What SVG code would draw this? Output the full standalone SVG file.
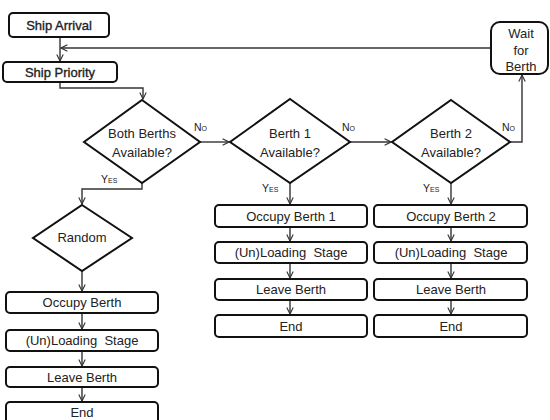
<svg xmlns="http://www.w3.org/2000/svg" width="550" height="420" viewBox="0 0 550 420">
<defs>
<marker id="ah" viewBox="0 0 10 10" refX="9" refY="5" markerWidth="8" markerHeight="8" orient="auto" markerUnits="userSpaceOnUse">
<path d="M1,1 L9,5 L1,9" fill="none" stroke="#333" stroke-width="1.4"/>
</marker>
<style>
.box{fill:#fff;stroke:#111;stroke-width:2}
.dia{fill:#fff;stroke:#111;stroke-width:2}
.t{font-family:"Liberation Sans",Arial,sans-serif;font-size:13px;fill:#222;text-anchor:middle;dominant-baseline:central}
.b{font-size:13px;stroke:#222;stroke-width:0.35}
.lbl{font-family:"Liberation Sans",Arial,sans-serif;font-size:10.5px;fill:#222;font-variant:small-caps}
.c{fill:none;stroke:#333;stroke-width:1.4;marker-end:url(#ah)}
</style>
</defs>
<rect width="550" height="420" fill="#fff"/>

<g id="connectors">
<path class="c" d="M60,37 V61"/>
<path class="c" d="M491,48 H61"/>
<path class="c" d="M60,82 V88 H143 V99"/>
<path class="c" d="M200,142 H229"/>
<path class="c" d="M350,142 H391"/>
<path class="c" d="M510,142 H522 V75"/>
<path class="c" d="M142,183 V189 H82 V204"/>
<path class="c" d="M82,271 V291"/>
<path class="c" d="M82,313 V329"/>
<path class="c" d="M82,351 V366"/>
<path class="c" d="M82,387 V401"/>
<path class="c" d="M290,183 V204"/>
<path class="c" d="M290,227 V241"/>
<path class="c" d="M290,263 V278"/>
<path class="c" d="M290,300 V314"/>
<path class="c" d="M451,183 V204"/>
<path class="c" d="M451,227 V241"/>
<path class="c" d="M451,263 V278"/>
<path class="c" d="M451,300 V314"/>
<text class="lbl" x="194" y="131">No</text>
<text class="lbl" x="342" y="131">No</text>
<text class="lbl" x="502" y="131">No</text>
<text class="lbl" x="101" y="183">Yes</text>
<text class="lbl" x="262" y="192">Yes</text>
<text class="lbl" x="423" y="192">Yes</text>
</g>

<g id="ship-arrival"><rect class="box" x="9" y="13" width="100" height="24" rx="4"/><text class="t b" x="59" y="25">Ship Arrival</text></g>
<g id="ship-priority"><rect class="box" x="3" y="62" width="114" height="20" rx="4"/><text class="t b" x="60" y="72">Ship Priority</text></g>
<g id="wait"><rect class="box" x="491" y="22" width="57" height="52" rx="9"/><text class="t" x="521" y="33">Wait</text><text class="t" x="521" y="50">for</text><text class="t" x="521" y="66">Berth</text></g>

<g id="both-berths"><polygon class="dia" points="142,100 200,142 142,183 84,142"/><text class="t" x="142" y="133">Both Berths</text><text class="t" x="142" y="152">Available?</text></g>
<g id="berth1-q"><polygon class="dia" points="290,99 350,142 290,183 230,142"/><text class="t" x="290" y="133">Berth 1</text><text class="t" x="290" y="152">Available?</text></g>
<g id="berth2-q"><polygon class="dia" points="451,100 510,142 451,183 392,142"/><text class="t" x="451" y="133">Berth 2</text><text class="t" x="451" y="152">Available?</text></g>
<g id="random"><polygon class="dia" points="82,205 132,238 82,271 33,238"/><text class="t" x="82" y="237">Random</text></g>

<g id="occupy"><rect class="box" x="6" y="292" width="152" height="21" rx="4"/><text class="t" x="82" y="302.5">Occupy Berth</text></g>
<g id="loading"><rect class="box" x="6" y="330" width="152" height="21" rx="4"/><text class="t" x="82" y="340.5">(Un)Loading&#160; Stage</text></g>
<g id="leave"><rect class="box" x="6" y="367" width="152" height="20" rx="4"/><text class="t" x="82" y="377">Leave Berth</text></g>
<g id="end"><rect class="box" x="6" y="402" width="152" height="22" rx="4"/><text class="t" x="82" y="412">End</text></g>

<g id="occupy1"><rect class="box" x="215" y="205" width="152" height="22" rx="4"/><text class="t" x="291" y="216">Occupy Berth 1</text></g>
<g id="loading1"><rect class="box" x="215" y="242" width="152" height="21" rx="4"/><text class="t" x="291" y="252.5">(Un)Loading&#160; Stage</text></g>
<g id="leave1"><rect class="box" x="215" y="279" width="152" height="21" rx="4"/><text class="t" x="291" y="289.5">Leave Berth</text></g>
<g id="end1"><rect class="box" x="215" y="315" width="152" height="22" rx="4"/><text class="t" x="291" y="326">End</text></g>

<g id="occupy2"><rect class="box" x="374" y="205" width="153" height="22" rx="4"/><text class="t" x="451" y="216">Occupy Berth 2</text></g>
<g id="loading2"><rect class="box" x="374" y="242" width="153" height="21" rx="4"/><text class="t" x="451" y="252.5">(Un)Loading&#160; Stage</text></g>
<g id="leave2"><rect class="box" x="374" y="279" width="153" height="21" rx="4"/><text class="t" x="451" y="289.5">Leave Berth</text></g>
<g id="end2"><rect class="box" x="374" y="315" width="153" height="22" rx="4"/><text class="t" x="451" y="326">End</text></g>
</svg>
